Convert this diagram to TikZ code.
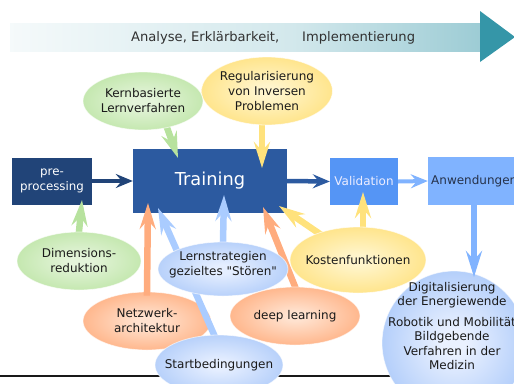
\documentclass[tikz,border=0pt]{standalone}
\usepackage{fontspec}
\setmainfont{DejaVu Sans}
\usetikzlibrary{shapes.geometric,arrows.meta,calc}

% palette
\definecolor{navyA}{HTML}{214478}
\definecolor{trainB}{HTML}{2C5AA0}
\definecolor{valC}{HTML}{5595F5}
\definecolor{appD}{HTML}{80B3FF}
\definecolor{tealA}{HTML}{3596A8}
\definecolor{ink}{HTML}{1A1A1A}
\definecolor{appInk}{HTML}{26324A}
\definecolor{grOut}{HTML}{B6E29C}
\definecolor{grIn}{HTML}{E4F4DA}
\definecolor{grArr}{HTML}{B7E29E}
\definecolor{yeOut}{HTML}{FFDD6E}
\definecolor{yeIn}{HTML}{FFF5CC}
\definecolor{yeArr}{HTML}{FFE27C}
\definecolor{orOut}{HTML}{FFA36E}
\definecolor{orIn}{HTML}{FFE2CF}
\definecolor{orArr}{HTML}{FFAC7E}
\definecolor{blOut}{HTML}{A2C3F8}
\definecolor{blIn}{HTML}{E5EEFF}
\definecolor{blArr}{HTML}{AACCFF}
\definecolor{ciOut}{HTML}{9BBFF8}
\definecolor{ciIn}{HTML}{EAF1FF}

% soft radial glows for the bubbles
\pgfdeclareradialshading{glowgreen}{\pgfpoint{0bp}{0bp}}{%
  color(0bp)=(grIn); color(4bp)=(grIn); color(35bp)=(grOut); color(50bp)=(grOut)}
\pgfdeclareradialshading{glowyellow}{\pgfpoint{0bp}{0bp}}{%
  color(0bp)=(yeIn); color(4bp)=(yeIn); color(35bp)=(yeOut); color(50bp)=(yeOut)}
\pgfdeclareradialshading{gloworange}{\pgfpoint{0bp}{0bp}}{%
  color(0bp)=(orIn); color(4bp)=(orIn); color(35bp)=(orOut); color(50bp)=(orOut)}
\pgfdeclareradialshading{glowblue}{\pgfpoint{0bp}{0bp}}{%
  color(0bp)=(blIn); color(4bp)=(blIn); color(35bp)=(blOut); color(50bp)=(blOut)}
\pgfdeclareradialshading{glowcircle}{\pgfpoint{0bp}{0bp}}{%
  color(0bp)=(ciIn); color(4bp)=(ciIn); color(35bp)=(ciOut); color(50bp)=(ciOut)}
% fading band of the timeline arrow
\pgfdeclarehorizontalshading{timeline}{100bp}{%
  color(0bp)=(white); color(25bp)=(tealA!5); color(55bp)=(tealA!22);
  color(85bp)=(tealA!62); color(100bp)=(tealA!92)}

\pgfdeclarelayer{back}
\pgfdeclarelayer{lowell}
\pgfdeclarelayer{links}
\pgfsetlayers{back,lowell,links,main}

\tikzset{
  stagebox/.style={rectangle, inner sep=0pt, draw=none},
  bubble/.style={ellipse, inner sep=0pt,
    draw=white, draw opacity=0.6, line width=0.8pt},
  green bubble/.style={bubble, shading=glowgreen},
  yellow bubble/.style={bubble, shading=glowyellow},
  orange bubble/.style={bubble, shading=gloworange},
  blue bubble/.style={bubble, shading=glowblue},
  txt/.style={align=center, inner sep=0pt, text=ink,
    font=\fontsize{12}{15}\selectfont},
  bartxt/.style={anchor=base west, inner sep=0pt, text=ink!90,
    font=\fontsize{13.1}{16}\selectfont},
  flow/.style={-{Stealth[length=17pt,width=14pt,inset=6pt]}, line width=4.5pt},
  feed/.style={-{Stealth[length=26pt,width=16pt,inset=9pt]}, line width=6.5pt,
    shorten <=-4pt},
}

\begin{document}
\begin{tikzpicture}[x=1pt,y=-1pt]
\useasboundingbox (0,0) rectangle (514,383);
\clip (0,0) rectangle (514,383);

\begin{pgfonlayer}{back}
  % timeline arrow along the top
  \fill[shading=timeline] (10,23) rectangle (481,51);
  \fill[tealA] (480,11) -- (515,37) -- (480,62) -- cycle;
  \node[bartxt] (bar-a) at (131,41) {Analyse, Erklärbarkeit,};
  \node[bartxt] (bar-b) at (302,41) {Implementierung};

  % rule near the bottom edge
  \coordinate (ruleL) at (0,376);
  \coordinate (ruleR) at (514,376);
  \draw[line width=1.5pt, black!90] (ruleL) -- (ruleR);

  % processing stages
  \node[stagebox, fill=navyA, minimum width=80pt, minimum height=47pt,
        text=white, align=center, font=\fontsize{11.8}{15.5}\selectfont]
        (pre) at (52,181) {pre-\\processing};
  \node[stagebox, fill=trainB, minimum width=154pt, minimum height=64pt,
        text=white, font=\fontsize{17.8}{20}\selectfont]
        (train) at (210,181) {Training};
  \node[stagebox, fill=valC, minimum width=68pt, minimum height=47pt,
        text=white!93!blue, font=\fontsize{12}{14}\selectfont]
        (val) at (364,181.5) {Validation};
  \node[stagebox, fill=appD, minimum width=92pt, minimum height=48pt]
        (anwbox) at (474,181) {};
  \node[anchor=west, inner sep=0pt, text=appInk,
        font=\fontsize{12}{14}\selectfont] (anwbox-t) at (431,181) {Anwendungen};

  \draw[flow, navyA] (pre.east) -- (train.west);
  \draw[flow, trainB] (train.east) -- (val.west);
  \draw[flow, appD, line width=4pt] (val.east) -- (anwbox.west);
\end{pgfonlayer}

% arrow targets inside the stage boxes
\coordinate (kernTip) at (178,158);
\coordinate (regTip) at (262,168);
\coordinate (dimTip) at (82,200);
\coordinate (netzTip) at (148,203);
\coordinate (lernTip) at (224,195);
\coordinate (startTip) at (158,208);
\coordinate (deepTip) at (263,207);
\coordinate (kostValTip) at (363,192);
\coordinate (kostTrainTip) at (279,206);
\coordinate (anwTip) at (474,277);

\begin{pgfonlayer}{lowell}
  \node[orange bubble, minimum width=128pt, minimum height=58pt] (netz) at (147,321) {};
\end{pgfonlayer}

% bubbles
\node[green bubble, minimum width=120pt, minimum height=58pt] (kern) at (143,101) {};
\node[yellow bubble, minimum width=131pt, minimum height=68pt] (reg) at (267,91) {};
\node[green bubble, minimum width=124pt, minimum height=58pt] (dim) at (79,261) {};
\node[blue bubble, minimum width=130pt, minimum height=54pt] (lern) at (223,269) {};
\node[blue bubble, minimum width=128pt, minimum height=60pt] (start) at (219,365) {};
\node[orange bubble, minimum width=130pt, minimum height=58pt] (deep) at (295,316) {};
\node[yellow bubble, minimum width=136pt, minimum height=66pt] (kost) at (358,260) {};
\node[bubble, shading=glowcircle,
      minimum width=144pt, minimum height=144pt] (anw) at (454,343) {};

% feeding arrows
\begin{pgfonlayer}{links}
  \draw[feed, grArr] ([xshift=25pt]kern.south) -- (kernTip);
  \draw[feed, yeArr] ([xshift=-5pt]reg.south) -- (regTip);
  \draw[feed, grArr] (dim.north) -- (dimTip);
  \draw[feed, orArr] (netz.north) -- (netzTip);
  \draw[feed, blArr] (lern.north) -- (lernTip);
  \draw[feed, blArr] ([xshift=-5pt]start.north) -- (startTip);
  \draw[feed, orArr] (deep.north) -- (deepTip);
  \draw[feed, yeArr] ([xshift=5pt]kost.north) -- (kostValTip);
  \draw[feed, yeArr] (kost) -- (kostTrainTip);
\end{pgfonlayer}
\draw[feed, appD, shorten <=0pt] (anwbox.south) -- (anwTip);

% bubble texts
\node[txt] (kern-t) at (kern) {Kernbasierte\\Lernverfahren};
\node[txt] (reg-t) at (reg) {Regularisierung\\von Inversen\\Problemen};
\node[txt] (dim-t) at (dim) {Dimensions-\\reduktion};
\node[txt] (netz-t) at (netz) {Netzwerk-\\architektur};
\node[txt] (lern-t) at ([yshift=4pt]lern.center)
  {Lernstrategien\\gezieltes \textquotedbl Stören\textquotedbl};
\node[txt] (start-t) at (start) {Startbedingungen};
\node[txt] (deep-t) at (deep) {deep learning};
\node[txt] (kost-t) at (kost) {Kostenfunktionen};
\node[txt, anchor=north, font=\fontsize{12}{14.5}\selectfont] (anw-t) at (452,282)
  {Digitalisierung\\der Energiewende\\[6pt]Robotik und Mobilität\\Bildgebende\\Verfahren in der\\Medizin};
\end{tikzpicture}
\end{document}
